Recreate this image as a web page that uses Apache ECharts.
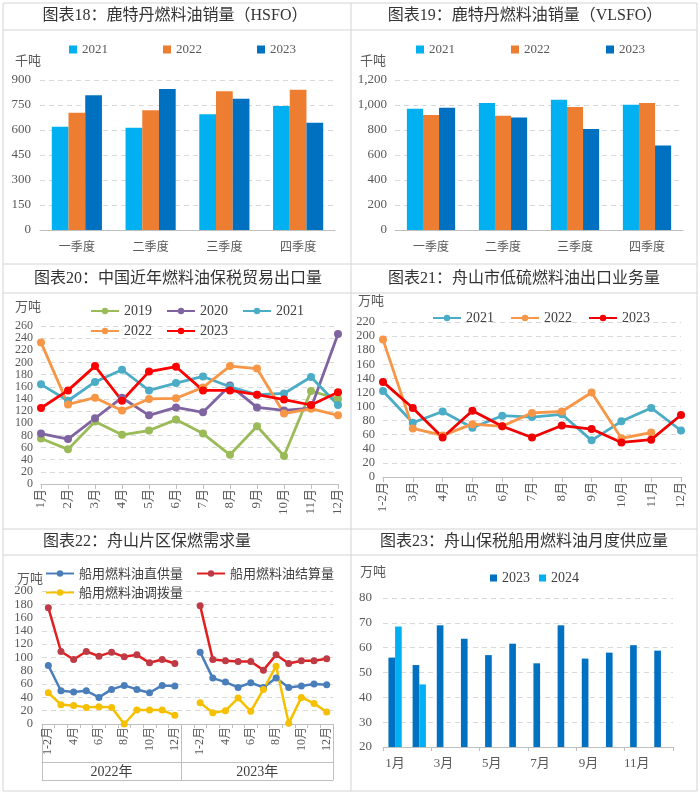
<!DOCTYPE html>
<html><head><meta charset="utf-8">
<script src="https://cdn.jsdelivr.net/npm/echarts@6/dist/echarts.min.js"></script>
<style>html,body{margin:0;padding:0;background:#fff;}#c{width:700px;height:795px;}</style>
</head><body><div id="c"></div>
<script>
// ---------- DATA ----------
const quarters = ['一季度', '二季度', '三季度', '四季度'];
const hsfo2021 = [620, 614, 694, 744];
const hsfo2022 = [704, 718, 832, 842];
const hsfo2023 = [808, 846, 788, 644];
const vlsfo2021 = [971, 1016, 1043, 1003];
const vlsfo2022 = [920, 915, 984, 1016];
const vlsfo2023 = [979, 901, 808, 677];

const months12 = ['1月','2月','3月','4月','5月','6月','7月','8月','9月','10月','11月','12月'];
const exp2019 = [75, 57, 103, 81, 88, 106, 83, 48, 95, 46, 153, 140];
const exp2020 = [83, 74, 108, 142, 113, 126, 118, 162, 126, 121, 125, 247];
const exp2021 = [164, 137, 168, 188, 154, 166, 177, 160, 147, 149, 176, 130];
const exp2022 = [233, 131, 142, 121, 140, 141, 159, 194, 190, 116, 124, 113];
const exp2023 = [125, 154, 194, 137, 185, 193, 154, 154, 147, 139, 130, 151];

const months11 = ['1-2月','3月','4月','5月','6月','7月','8月','9月','10月','11月','12月'];
const zs2021 = [122, 77, 93, 70, 87, 85, 89, 52, 79, 98, 66];
const zs2022 = [195, 69, 59, 75, 72, 91, 93, 120, 55, 63, null];
const zs2023 = [135, 98, 56, 94, 72, 56, 73, 68, 49, 53, 88];

const demandYears = ['2022年', '2023年'];
const direct2022 = [88, 50, 48, 50, 40, 52, 58, 52, 47, 58, 57];
const direct2023 = [108, 69, 63, 55, 62, 55, 69, 55, 57, 60, 59];
const settle2022 = [175, 109, 97, 109, 102, 108, 101, 104, 92, 97, 91];
const settle2023 = [178, 97, 95, 94, 94, 81, 104, 91, 95, 95, 98];
const transfer2022 = [47, 29, 28, 25, 26, 25, 0, 21, 21, 21, 13];
const transfer2023 = [32, 17, 20, 39, 19, 52, 87, 1, 40, 31, 18];

const supply2023 = [56, 53, 69, 63.6, 57, 61.6, 53.7, 69, 55.6, 58, 61, 58.8];
const supply2024 = [68.5, 45.2];

// ---------- STYLE ----------
const FONT = "'Liberation Serif','Noto Sans CJK SC',serif";
const CJK = "'Noto Sans CJK SC',sans-serif";
const TXT = '#595959';
const GRIDC = '#D9D9D9';
const AXC = '#BFBFBF';
const BORDER = '#D4D4D4';

// panel 5 category table (2022 group, blank slot, 2023 group)
const p5Cats = months11.map(m => demandYears[0] + '|' + m)
  .concat([demandYears[1] + '|'])
  .concat(months11.map(m => demandYears[1] + '|' + m));
const p5Split = months11.length; // index where 2023 group starts
const join5 = (a, b) => a.concat([null], b);

function valAxis(gi, min, max, interval, margin, fmt, fs) {
  return {
    type: 'value', gridIndex: gi, min, max, interval,
    axisLine: {show: false}, axisTick: {show: false},
    axisLabel: {color: TXT, fontFamily: FONT, fontSize: fs || 13, margin, formatter: fmt},
    splitLine: {lineStyle: {color: GRIDC, type: [5, 4], width: 1}}
  };
}
function catAxis(gi, data, opts) {
  return Object.assign({
    type: 'category', gridIndex: gi, data, position: 'bottom',
    axisLine: {onZero: false, lineStyle: {color: AXC}},
    axisTick: {show: false},
    axisLabel: {color: TXT, fontFamily: FONT, fontSize: 12}
  }, opts);
}
function lineS(name, data, color, xi, yi, lw, sym) {
  return {type: 'line', name, data, xAxisIndex: xi, yAxisIndex: yi,
    symbol: 'circle', symbolSize: sym || 7, connectNulls: false,
    lineStyle: {color, width: lw || 2.5}, itemStyle: {color}};
}
function barS(name, data, color, xi, yi, gap, bw) {
  const s = {type: 'bar', name, data, xAxisIndex: xi, yAxisIndex: yi,
    itemStyle: {color}, barGap: '0%', barCategoryGap: gap};
  if (bw) s.barWidth = bw;
  return s;
}
const strip = n => n.split('_')[1];

const C21 = '#00B0F0', C22 = '#ED7D31', C23 = '#0070C0';

const option = {
  animation: false,
  backgroundColor: '#fff',
  grid: [
    {left: 40, top: 80, width: 295, height: 150},
    {left: 395, top: 80, width: 288, height: 150},
    {left: 41, top: 326, width: 297, height: 158},
    {left: 383, top: 322, width: 298, height: 155},
    {left: 42, top: 591, width: 291, height: 133},
    {left: 383, top: 598, width: 290, height: 149}
  ],
  xAxis: [
    catAxis(0, quarters, {axisLabel: {color: TXT, fontFamily: CJK, fontSize: 12, margin: 10}}),
    catAxis(1, quarters, {axisLabel: {color: TXT, fontFamily: CJK, fontSize: 12, margin: 10}}),
    catAxis(2, months12, {boundaryGap: false,
      axisTick: {show: true, length: 5, lineStyle: {color: AXC}},
      axisLabel: {color: TXT, fontFamily: FONT, fontSize: 13, rotate: 90, margin: 5, interval: 0}}),
    catAxis(3, months11, {boundaryGap: false,
      axisTick: {show: true, length: 5, lineStyle: {color: AXC}},
      axisLabel: {color: TXT, fontFamily: FONT, fontSize: 13, rotate: 90, margin: 5, interval: 0}}),
    catAxis(4, p5Cats, {
      axisTick: {show: true, interval: 0, length: 4, lineStyle: {color: AXC}},
      axisLabel: {color: TXT, fontFamily: FONT, fontSize: 12, rotate: 90, margin: 3, interval: 1,
        formatter: v => v.split('|')[1]}}),
    catAxis(4, p5Cats, {
      axisLine: {show: false, onZero: false},
      axisLabel: {show: false},
      axisTick: {show: true, length: 56, interval: i => i === 0 || i === p5Split, lineStyle: {color: AXC}}}),
    catAxis(4, p5Cats, {
      offset: 38,
      axisLabel: {color: '#404040', fontFamily: FONT, fontSize: 14, margin: 3, interval: 0,
        formatter: (v, i) => i === Math.floor((p5Split - 1) / 2) ? demandYears[0]
          : (i === p5Split + Math.floor((p5Cats.length - p5Split - 1) / 2) ? '{s|' + demandYears[1] + '}' : ''),
        rich: {s: {padding: [0, 0, 0, 13], fontFamily: FONT, fontSize: 14, color: '#404040'}}}}),
    catAxis(4, p5Cats, {offset: 56, axisLabel: {show: false}}),
    catAxis(5, months12, {
      axisTick: {show: true, length: 4, lineStyle: {color: AXC}},
      axisLabel: {color: TXT, fontFamily: FONT, fontSize: 13, margin: 10, interval: 1}})
  ],
  yAxis: [
    valAxis(0, 0, 900, 150, 9),
    valAxis(1, 0, 1200, 200, 8, v => v.toLocaleString('en-US')),
    valAxis(2, 0, 260, 20, 8, undefined, 12),
    valAxis(3, 0, 220, 20, 8, undefined, 12.5),
    valAxis(4, 0, 200, 20, 9, undefined, 12.5),
    valAxis(5, 20, 80, 10, 11)
  ],
  legend: [
    {data: ['p1_2021', 'p1_2022', 'p1_2023'], formatter: strip, left: 64, top: 38, icon: 'rect',
      itemWidth: 8, itemHeight: 8, itemGap: 55, selectedMode: false,
      textStyle: {color: TXT, fontFamily: FONT, fontSize: 13}},
    {data: ['p2_2021', 'p2_2022', 'p2_2023'], formatter: strip, left: 411, top: 38, icon: 'rect',
      itemWidth: 8, itemHeight: 8, itemGap: 56, selectedMode: false,
      textStyle: {color: TXT, fontFamily: FONT, fontSize: 13}},
    {data: ['p3_2019', 'p3_2020', 'p3_2021'], formatter: strip, left: 85, top: 299,
      itemWidth: 28, itemHeight: 8, itemGap: 14, selectedMode: false,
      textStyle: {color: '#404040', fontFamily: FONT, fontSize: 14}},
    {data: ['p3_2022', 'p3_2023'], formatter: strip, left: 85, top: 319,
      itemWidth: 28, itemHeight: 8, itemGap: 14, selectedMode: false,
      textStyle: {color: '#404040', fontFamily: FONT, fontSize: 14}},
    {data: ['p4_2021', 'p4_2022', 'p4_2023'], formatter: strip, left: 427, top: 306,
      itemWidth: 28, itemHeight: 8, itemGap: 16, selectedMode: false,
      textStyle: {color: '#404040', fontFamily: FONT, fontSize: 14}},
    {data: ['船用燃料油直供量', '船用燃料油结算量'], left: 40, top: 562,
      itemWidth: 28, itemHeight: 8, itemGap: 13, selectedMode: false,
      textStyle: {color: '#404040', fontFamily: CJK, fontSize: 13}},
    {data: ['船用燃料油调拨量'], left: 40, top: 581,
      itemWidth: 28, itemHeight: 8, itemGap: 13, selectedMode: false,
      textStyle: {color: '#404040', fontFamily: CJK, fontSize: 13}},
    {data: ['p6_2023', 'p6_2024'], formatter: strip, left: 485, top: 566, icon: 'rect',
      itemWidth: 7, itemHeight: 7, itemGap: 9, selectedMode: false,
      textStyle: {color: '#404040', fontFamily: FONT, fontSize: 14}}
  ],
  series: [
    barS('p1_2021', hsfo2021, C21, 0, 0, '32%'),
    barS('p1_2022', hsfo2022, C22, 0, 0, '32%'),
    barS('p1_2023', hsfo2023, C23, 0, 0, '32%'),
    barS('p2_2021', vlsfo2021, C21, 1, 1, '33%'),
    barS('p2_2022', vlsfo2022, C22, 1, 1, '33%'),
    barS('p2_2023', vlsfo2023, C23, 1, 1, '33%'),
    lineS('p3_2019', exp2019, '#9BBB59', 2, 2, 2.8, 8),
    lineS('p3_2020', exp2020, '#8064A2', 2, 2, 2.8, 8),
    lineS('p3_2021', exp2021, '#4BACC6', 2, 2, 2.8, 8),
    lineS('p3_2022', exp2022, '#F79646', 2, 2, 2.8, 8),
    lineS('p3_2023', exp2023, '#FF0000', 2, 2, 2.8, 8),
    lineS('p4_2021', zs2021, '#4BACC6', 3, 3, 2.8, 8),
    lineS('p4_2022', zs2022, '#F79646', 3, 3, 2.8, 8),
    lineS('p4_2023', zs2023, '#F00000', 3, 3, 2.8, 8),
    lineS('船用燃料油直供量', join5(direct2022, direct2023), '#4A7EBB', 4, 4, 2.5, 7),
    Object.assign(lineS('船用燃料油结算量', join5(settle2022, settle2023), '#E02020', 4, 4, 2.5, 7),
      {itemStyle: {color: '#BE3A44'}}),
    lineS('船用燃料油调拨量', join5(transfer2022, transfer2023), '#F5C000', 4, 4, 2.5, 7),
    barS('p6_2023', supply2023, '#0070C0', 8, 5, '45%'),
    barS('p6_2024', supply2024, '#00B0F0', 8, 5, '45%')
  ],
  graphic: []
};

// table borders
const hl = [3, 30, 264, 293, 529, 555, 791];
hl.forEach(y => option.graphic.push({type: 'line', silent: true,
  shape: {x1: 3, y1: y, x2: 697, y2: y}, style: {stroke: BORDER, lineWidth: 1}}));
[3, 351, 697].forEach(x => option.graphic.push({type: 'line', silent: true,
  shape: {x1: x, y1: 3, x2: x, y2: 791}, style: {stroke: BORDER, lineWidth: 1}}));

// titles
const titles = [
  [175, 16, '图表18：鹿特丹燃料油销量（HSFO）', 'center'],
  [525, 16, '图表19：鹿特丹燃料油销量（VLSFO）', 'center'],
  [178, 279, '图表20：中国近年燃料油保税贸易出口量', 'center'],
  [524, 279, '图表21：舟山市低硫燃料油出口业务量', 'center'],
  [43, 542, '图表22：舟山片区保燃需求量', 'left'],
  [524, 542, '图表23：舟山保税船用燃料油月度供应量', 'center']
];
titles.forEach(t => option.graphic.push({type: 'text', silent: true, x: t[0], y: t[1],
  style: {text: t[2], textAlign: t[3], textVerticalAlign: 'middle', fill: '#333',
    font: '16px ' + FONT}}));

// units
const units = [[15, 60, '千吨'], [360, 60, '千吨'], [15, 306, '万吨'], [358, 300, '万吨'],
  [17, 578, '万吨'], [360, 571, '万吨']];
units.forEach(u => option.graphic.push({type: 'text', silent: true, x: u[0], y: u[1],
  style: {text: u[2], textAlign: 'left', textVerticalAlign: 'middle', fill: TXT,
    font: '13px ' + CJK}}));

const chart = echarts.init(document.getElementById('c'), null, {renderer: 'canvas'});
chart.setOption(option);
</script></body></html>
